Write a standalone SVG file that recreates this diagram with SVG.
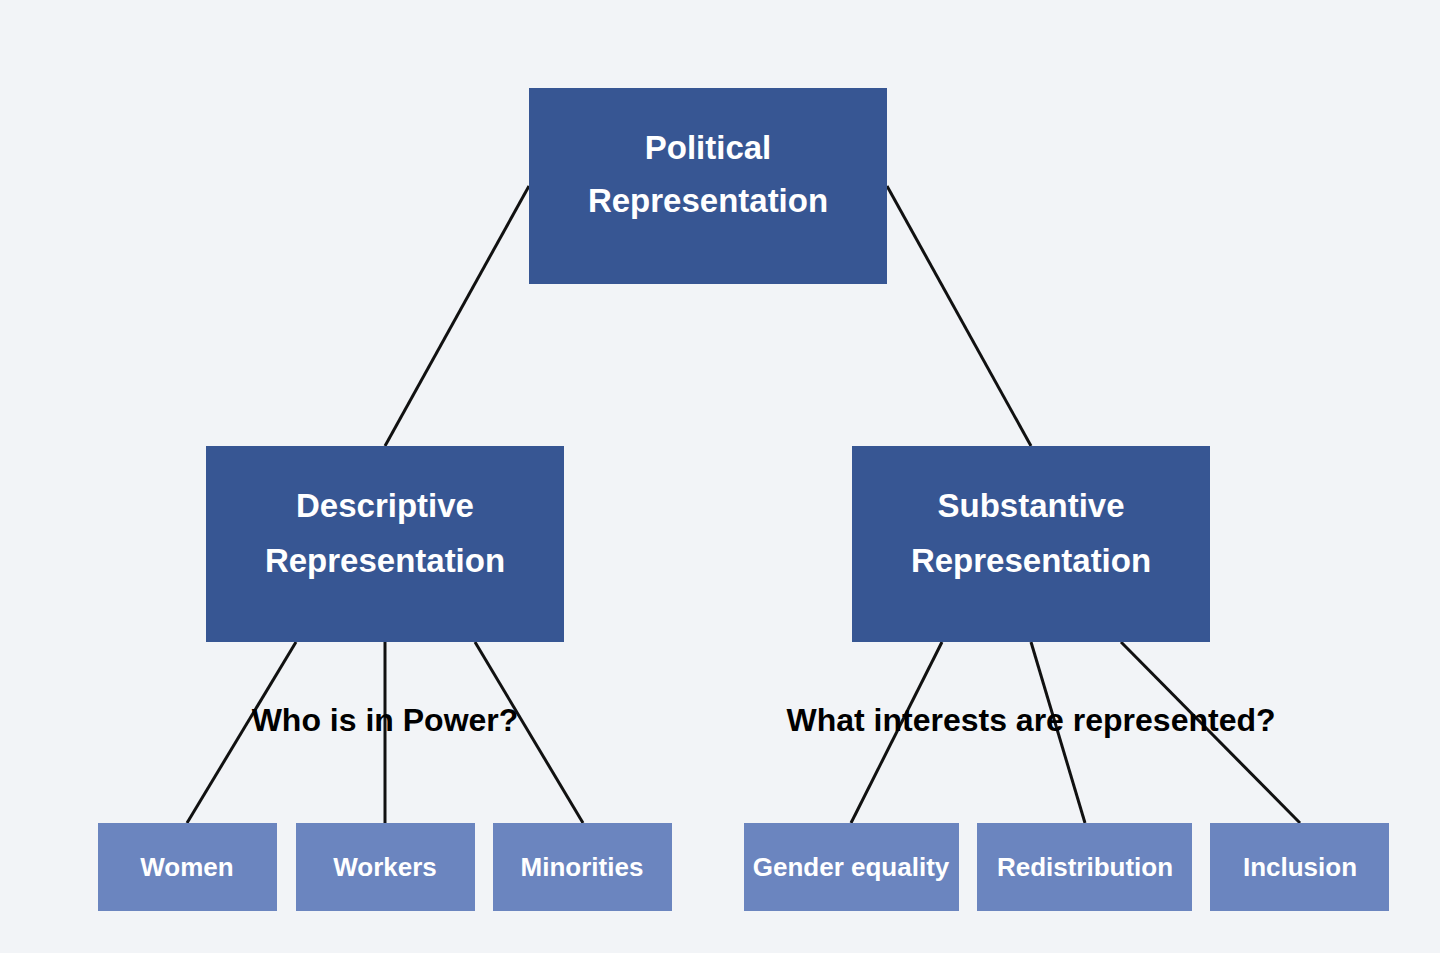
<svg xmlns="http://www.w3.org/2000/svg" width="1440" height="953" viewBox="0 0 1440 953">
<style>
.main{fill:#375693}
.leaf{fill:#6b85bf}
.t{font-family:"Liberation Sans",Arial,sans-serif;font-weight:bold;fill:#fff;text-anchor:middle}
.big{font-size:33px}
.sm{font-size:26px}
.q{font-family:"Liberation Sans",Arial,sans-serif;font-weight:bold;fill:#000;font-size:32px;text-anchor:middle}
.c line{stroke:#111;stroke-width:3}
</style>
<rect width="1440" height="953" fill="#f2f4f7"/>
<g class="c" id="connectors">
<line x1="529" y1="186" x2="385" y2="446"/>
<line x1="887" y1="186" x2="1031" y2="446"/>
<line x1="296" y1="642" x2="187" y2="823"/>
<line x1="385" y1="642" x2="385" y2="823"/>
<line x1="475" y1="642" x2="583" y2="823"/>
<line x1="942" y1="642" x2="851" y2="823"/>
<line x1="1031" y1="642" x2="1085" y2="823"/>
<line x1="1121" y1="642" x2="1300" y2="823"/>
</g>
<g id="political"><rect class="main" x="529" y="88" width="358" height="196"/><text class="t big" x="708" y="159">Political</text><text class="t big" x="708" y="212">Representation</text></g>
<g id="descriptive"><rect class="main" x="206" y="446" width="358" height="196"/><text class="t big" x="385" y="517">Descriptive</text><text class="t big" x="385" y="572">Representation</text></g>
<g id="substantive"><rect class="main" x="852" y="446" width="358" height="196"/><text class="t big" x="1031" y="517">Substantive</text><text class="t big" x="1031" y="572">Representation</text></g>
<g id="women"><rect class="leaf" x="98" y="823" width="179" height="88"/><text class="t sm" x="187" y="876">Women</text></g>
<g id="workers"><rect class="leaf" x="296" y="823" width="179" height="88"/><text class="t sm" x="385" y="876">Workers</text></g>
<g id="minorities"><rect class="leaf" x="493" y="823" width="179" height="88"/><text class="t sm" x="582" y="876">Minorities</text></g>
<g id="gender"><rect class="leaf" x="744" y="823" width="215" height="88"/><text class="t sm" x="851" y="876">Gender equality</text></g>
<g id="redistribution"><rect class="leaf" x="977" y="823" width="215" height="88"/><text class="t sm" x="1085" y="876">Redistribution</text></g>
<g id="inclusion"><rect class="leaf" x="1210" y="823" width="179" height="88"/><text class="t sm" x="1300" y="876">Inclusion</text></g>
<text class="q" x="385" y="731">Who is in Power?</text>
<text class="q" x="1031" y="731">What interests are represented?</text>
</svg>
